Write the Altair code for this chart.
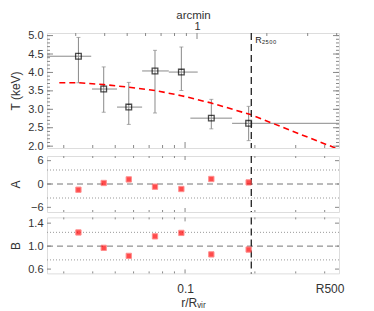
import altair as alt
import pandas as pd
import numpy as np

# ---------------- data ----------------
x_r = [0.0347, 0.0446, 0.0572, 0.0742, 0.0964, 0.1298, 0.188]
x_lo = [0.0200, 0.0397, 0.0509, 0.0653, 0.0851, 0.1054, 0.1595]
x_hi = [0.0394, 0.0509, 0.0653, 0.0851, 0.1134, 0.1595, 0.60]
T = [4.44, 3.55, 3.06, 4.04, 4.01, 2.76, 2.62]
T_lo = [3.72, 2.92, 2.59, 2.90, 3.51, 2.47, 2.15]
T_hi = [4.95, 4.15, 3.73, 4.60, 4.69, 3.27, 3.08]

model_x = [0.0287, 0.0348, 0.0446, 0.0572, 0.0742, 0.0964, 0.1298, 0.1932, 0.2892, 0.4445]
model_T = [3.72, 3.72, 3.67, 3.60, 3.51, 3.37, 3.17, 2.85, 2.41, 1.95]

A_vals = [-1.47, 0.26, 1.18, -0.69, -1.29, 1.29, 0.41]
B_vals = [1.238, 0.97, 0.83, 1.17, 1.23, 0.856, 0.94]

R2500 = 0.193
R500 = 0.42
ARCMIN = 0.1126  # r/Rvir per arcmin

r_major = [0.1]
r_minor = [0.03, 0.04, 0.05, 0.06, 0.07, 0.08, 0.09, 0.2, 0.3, 0.4]
arcmin_major = [1]
arcmin_minor = [0.3, 0.4, 0.5, 0.6, 0.7, 0.8, 0.9, 2, 3, 4]
T_labels = [2.0, 2.5, 3.0, 3.5, 4.0, 4.5, 5.0]
T_minor = [round(v, 1) for v in np.arange(2.0, 5.05, 0.1)]
A_labels = [-6, 0, 6]
A_dotted = [-3.6, 3.6]
B_labels = [0.6, 1.0, 1.4]
B_dotted = [0.76, 1.24]

# ---------------- style ----------------
W = 292
H_T = 115
H_S = 56
XDOM = [0.0254, 0.461]
FONT = "Liberation Sans"
TXT = "#333333"
FRAME = "#888888"
ERR = "#8a8a8a"

xscale = alt.Scale(type="log", domain=XDOM, nice=False, zero=False)

df = pd.DataFrame({"x": x_r, "xlo": x_lo, "xhi": x_hi, "T": T, "Tlo": T_lo, "Thi": T_hi,
                   "A": A_vals, "B": B_vals})
df_model = pd.DataFrame({"x": model_x, "T": model_T})


def yaxis(title, values, fmt):
    return alt.Axis(values=values, format=fmt, ticks=False, tickSize=0, domain=False, grid=False,
                    title=title, titleX=-32, titleAngle=270, titleAlign="center",
                    titleBaseline="middle", titleFontSize=12, titleFontWeight="normal",
                    titleColor=TXT, labelColor=TXT, labelFontSize=11, labelPadding=4,
                    labelFont=FONT, titleFont=FONT, minExtent=30, maxExtent=30)


def xtick_layers(X, vals, length, H, top=True, bottom=True):
    d = pd.DataFrame({"x": vals})
    out = []
    if top:
        out.append(alt.Chart(d).mark_rule(color=FRAME, strokeWidth=1).encode(
            x=X("x"), y=alt.value(0), y2=alt.value(length)))
    if bottom:
        out.append(alt.Chart(d).mark_rule(color=FRAME, strokeWidth=1).encode(
            x=X("x"), y=alt.value(H), y2=alt.value(H - length)))
    return out


def ytick_layers(Y, vals, length):
    d = pd.DataFrame({"y": vals})
    return [
        alt.Chart(d).mark_rule(color=FRAME, strokeWidth=1).encode(
            y=Y("y"), x=alt.value(0), x2=alt.value(length)),
        alt.Chart(d).mark_rule(color=FRAME, strokeWidth=1).encode(
            y=Y("y"), x=alt.value(W), x2=alt.value(W - length)),
    ]


# ---------------- top panel ----------------
top_axis = alt.Axis(orient="top", values=[ARCMIN], labelExpr="'1'", title="arcmin",
                    ticks=False, tickSize=0, domain=False, grid=False, labelPadding=2,
                    titlePadding=0,
                    labelFontSize=11, titleFontSize=11.5, titleFontWeight="normal",
                    labelFont=FONT, titleFont=FONT, labelColor=TXT, titleColor=TXT)


def XT(f):
    return alt.X(f, type="quantitative", scale=xscale, axis=top_axis)


TSCALE = alt.Scale(domain=[1.95, 5.07], nice=False, zero=False)
t_axis = yaxis("T (keV)", T_labels, ".1f")


def YT(f):
    return alt.Y(f, type="quantitative", scale=TSCALE, axis=t_axis)


base = alt.Chart(df)
lab_df = pd.DataFrame({"x": [R2500], "lab": ["R\u2082\u2085\u2080\u2080"]})
top_layers = [
    base.mark_rule(color=ERR, strokeWidth=1, clip=True).encode(
        x=XT("xlo"), x2="xhi", y=YT("T")),
    base.mark_rule(color=ERR, strokeWidth=1).encode(
        x=XT("x"), y=YT("Tlo"), y2="Thi"),
    base.mark_tick(color=ERR, orient="horizontal", size=4, thickness=1).encode(
        x=XT("x"), y=YT("Tlo")),
    base.mark_tick(color=ERR, orient="horizontal", size=4, thickness=1).encode(
        x=XT("x"), y=YT("Thi")),
    alt.Chart(df_model).mark_line(color="#ff0000", strokeWidth=1.6, strokeDash=[6, 4],
                                  clip=True).encode(x=XT("x"), y=YT("T")),
    base.mark_point(shape="square", filled=False, color="#000000", size=32,
                    strokeWidth=1.3).encode(x=XT("x"), y=YT("T")),
    alt.Chart(lab_df).mark_rule(
        color="#222222", strokeWidth=1.3, strokeDash=[7, 4]).encode(
        x=XT("x"), y=alt.value(0), y2=alt.value(H_T)),
    alt.Chart(lab_df).mark_text(
        align="left", baseline="top", dx=4, dy=3, fontSize=9, font=FONT, color="#222222").encode(
        x=XT("x"), y=alt.value(0), text="lab:N"),
]
arc_major = [a * ARCMIN for a in arcmin_major]
arc_minor = [a * ARCMIN for a in arcmin_minor]
top_layers += xtick_layers(XT, arc_major, 6, H_T, top=True, bottom=False)
top_layers += xtick_layers(XT, arc_minor, 3, H_T, top=True, bottom=False)
top_layers += xtick_layers(XT, r_major, 6, H_T, top=False, bottom=True)
top_layers += xtick_layers(XT, r_minor, 3, H_T, top=False, bottom=True)
top_layers += ytick_layers(YT, T_labels, 6)
top_layers += ytick_layers(YT, T_minor, 3)

top = alt.layer(*top_layers).properties(width=W, height=H_T)


# ---------------- small panels ----------------
def small_panel(field, title, dom, labels, fmt, ref, dotted, bottom_axis):
    if bottom_axis:
        ax = alt.Axis(orient="bottom", values=[0.1, R500],
                      labelExpr="datum.value < 0.2 ? '0.1' : 'R500'",
                      title="r/R\u1d65\u1d62\u1d63", ticks=False, tickSize=0,
                      domain=False, grid=False,
                      labelPadding=10, titlePadding=3,
                      labelFontSize=12, titleFontSize=12,
                      titleFontWeight="normal", labelFont=FONT, titleFont=FONT,
                      labelColor=TXT, titleColor=TXT)
    else:
        ax = None

    def X(f):
        return alt.X(f, type="quantitative", scale=xscale, axis=ax)

    sc = alt.Scale(domain=dom, nice=False, zero=False)
    yax = yaxis(title, labels, fmt)

    def Y(f):
        return alt.Y(f, type="quantitative", scale=sc, axis=yax)

    layers = [
        alt.Chart(pd.DataFrame({"y": [ref]})).mark_rule(
            color="#777777", strokeWidth=1, strokeDash=[6, 4]).encode(
            y=Y("y"), x=alt.value(0), x2=alt.value(W)),
        alt.Chart(pd.DataFrame({"y": dotted})).mark_rule(
            color="#999999", strokeWidth=1, strokeDash=[1, 2]).encode(
            y=Y("y"), x=alt.value(0), x2=alt.value(W)),
        alt.Chart(pd.DataFrame({"x": [R2500]})).mark_rule(
            color="#222222", strokeWidth=1.3, strokeDash=[7, 4]).encode(
            x=X("x"), y=alt.value(0), y2=alt.value(H_S)),
        alt.Chart(df).mark_point(shape="square", filled=True, color="#ff0000", size=28,
                                 stroke="#ff6060", strokeWidth=1).encode(
            x=X("x"), y=Y(field)),
    ]
    layers += xtick_layers(X, r_major, 4, H_S)
    layers += xtick_layers(X, r_minor, 2, H_S)
    layers += ytick_layers(Y, labels, 4)
    return alt.layer(*layers).properties(width=W, height=H_S)


pA = small_panel("A", "A", [-7.2, 7.2], A_labels, "d", 0, A_dotted, False)
pB = small_panel("B", "B", [0.525, 1.5], B_labels, ".1f", 1.0, B_dotted, True)

chart = alt.vconcat(top, alt.vconcat(pA, pB, spacing=1.4), spacing=2).properties(
    padding={"left": 0, "top": 0, "right": 0, "bottom": 0}
).configure_view(stroke=FRAME, strokeWidth=1).configure(font=FONT)

chart.save("out.html", embed_options={"renderer": "svg", "actions": False})
